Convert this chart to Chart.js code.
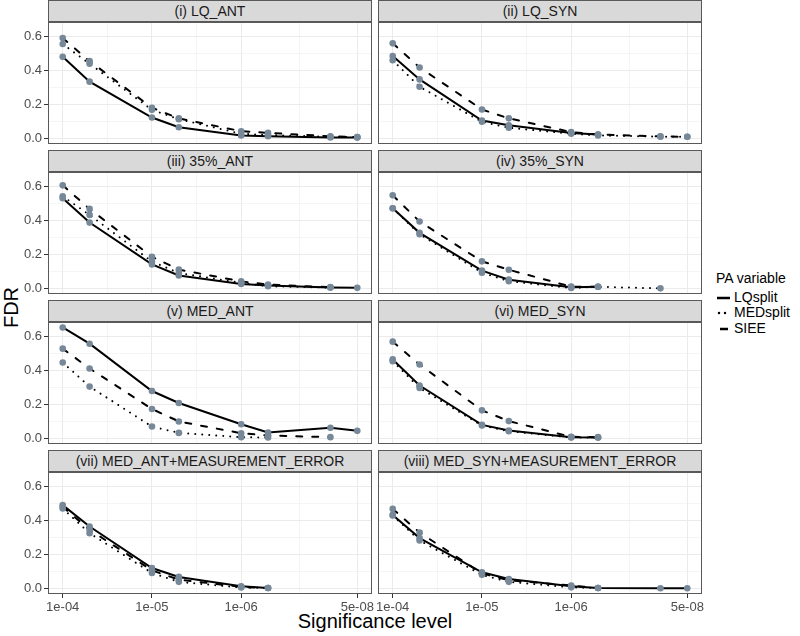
<!DOCTYPE html>
<html>
<head>
<meta charset="utf-8">
<script src="https://cdn.jsdelivr.net/npm/chart.js@4.4.0/dist/chart.umd.min.js"></script>
<style>
  body { margin:0; width:800px; height:636px; background:#fff; position:relative; overflow:hidden;
         font-family:"Liberation Sans", Arial, sans-serif; }
  .box { position:absolute; }
  .strip { position:absolute; box-sizing:border-box; height:22px; background:#d9d9d9; border:1px solid #595959;
           color:#1a1a1a; font-size:14px; line-height:20px; text-align:center; white-space:nowrap; }
  .ytitle { position:absolute; left:-19px; top:296px; width:60px; text-align:center; font-size:20px;
            transform:rotate(-90deg); color:#000; }
  .xtitle { position:absolute; left:225px; width:300px; top:610px; text-align:center; font-size:20px; color:#000; }
  .legend { position:absolute; left:716px; top:271px; font-size:14px; color:#000; }
  .legend .row { height:15.5px; line-height:15.5px; white-space:nowrap; }
  .legend svg { vertical-align:middle; margin-right:3px; }
</style>
</head>
<body>
<div class="ytitle">FDR</div>
<div class="xtitle">Significance level</div>
<div class="legend" id="legend"></div>

<script>
// significance thresholds (x) and axis breaks
const P_LEVELS = [1e-4, 5e-5, 1e-5, 5e-6, 1e-6, 5e-7, 1e-7, 5e-8];
const X_TICKS = [1e-4, 1e-5, 1e-6, 5e-8];
const X_TICK_LABELS = ["1e-04", "1e-05", "1e-06", "5e-08"];
const X_MINOR = [3.1623e-5, 3.1623e-6, 2.2361e-7];
const Y_TICKS = [0, 0.2, 0.4, 0.6];
const Y_TICK_LABELS = ["0.0", "0.2", "0.4", "0.6"];
const Y_MINOR = [0.1, 0.3, 0.5];

const PANEL_TITLES = [
  "(i) LQ_ANT", "(ii) LQ_SYN",
  "(iii) 35%_ANT", "(iv) 35%_SYN",
  "(v) MED_ANT", "(vi) MED_SYN",
  "(vii) MED_ANT+MEASUREMENT_ERROR", "(viii) MED_SYN+MEASUREMENT_ERROR"
];
const SERIES_NAMES = ["LQsplit", "MEDsplit", "SIEE"];

// FDR per panel, one value per P_LEVELS entry (null = not reported)
const LQSPLIT = [
  [0.48, 0.335, 0.125, 0.068, 0.02, 0.015, 0.008, 0.008],
  [0.485, 0.348, 0.107, 0.08, 0.035, 0.025, null, null],
  [0.53, 0.388, 0.143, 0.078, 0.029, 0.02, 0.008, 0.006],
  [0.472, 0.328, 0.107, 0.054, 0.01, 0.012, null, null],
  [0.652, 0.557, 0.28, 0.21, 0.086, 0.037, 0.065, 0.047],
  [0.465, 0.312, 0.082, 0.049, 0.01, 0.008, null, null],
  [0.49, 0.365, 0.122, 0.07, 0.015, 0.005, null, null],
  [0.433, 0.297, 0.097, 0.058, 0.015, 0.005, 0.004, 0.004]
];
const MEDSPLIT = [
  [0.555, 0.44, 0.17, 0.115, 0.03, 0.022, 0.012, 0.01],
  [0.46, 0.305, 0.1, 0.065, 0.03, 0.02, 0.013, 0.012],
  [0.542, 0.433, 0.16, 0.093, 0.035, 0.015, 0.008, null],
  [0.472, 0.32, 0.095, 0.045, 0.005, 0.012, 0.003, null],
  [0.447, 0.306, 0.072, 0.035, 0.01, 0.008, null, null],
  [0.455, 0.298, 0.078, 0.045, 0.008, 0.008, null, null],
  [0.47, 0.326, 0.093, 0.041, 0.008, 0.005, null, null],
  [0.43, 0.283, 0.082, 0.041, 0.009, 0.005, null, null]
];
const SIEE = [
  [0.59, 0.455, 0.182, 0.12, 0.045, 0.035, 0.015, 0.01],
  [0.559, 0.418, 0.172, 0.12, 0.04, 0.025, 0.015, 0.012],
  [0.606, 0.468, 0.188, 0.113, 0.044, 0.025, 0.01, null],
  [0.548, 0.394, 0.161, 0.112, 0.013, 0.012, null, null],
  [0.528, 0.412, 0.175, 0.102, 0.033, 0.02, 0.01, null],
  [0.569, 0.435, 0.167, 0.104, 0.012, 0.01, null, null],
  [0.48, 0.346, 0.108, 0.054, 0.012, 0.005, null, null],
  [0.468, 0.33, 0.09, 0.05, 0.02, 0.005, null, null]
];

const DASHES = [[], [0.01, 7], [6, 10]];
const POINT_COLOR = "#778899";
const FONT = "'Liberation Sans', Arial, sans-serif";

// panel geometry
const COL_LEFT = [48, 378];
const PANEL_W = 324;
const PANEL_H = 122;
const STRIP_H = 22;
const ROW_STEP = 150;
const PAD = 12;

const panelBorder = {
  id: "panelBorder",
  afterDatasetsDraw(chart) {
    const a = chart.chartArea, ctx = chart.ctx;
    ctx.save();
    ctx.strokeStyle = "#595959";
    ctx.lineWidth = 1;
    ctx.strokeRect(Math.round(a.left) + 0.5, Math.round(a.top) + 0.5,
                   Math.round(a.right - a.left) - 1, Math.round(a.bottom - a.top) - 1);
    ctx.restore();
  }
};

function toPoints(vals) {
  return P_LEVELS.map((p, i) => ({x: p, y: vals[i]})).filter(d => d.y !== null);
}

function makePanel(k) {
  const col = k % 2, row = Math.floor(k / 2);
  const bottom = row === 3;
  const yw = col === 0 ? 48 : 20;
  const xh = bottom ? 26 : 0;
  const panelTop = row * ROW_STEP + STRIP_H;

  const strip = document.createElement("div");
  strip.className = "strip";
  strip.style.left = COL_LEFT[col] + "px";
  strip.style.top = (row * ROW_STEP) + "px";
  strip.style.width = PANEL_W + "px";
  strip.textContent = PANEL_TITLES[k];
  document.body.appendChild(strip);

  const box = document.createElement("div");
  box.className = "box";
  box.style.left = (COL_LEFT[col] - yw) + "px";
  box.style.top = (panelTop - PAD) + "px";
  box.style.width = (yw + PANEL_W + 10) + "px";
  box.style.height = (PANEL_H + xh + 2 * PAD) + "px";
  const cv = document.createElement("canvas");
  box.appendChild(cv);
  document.body.appendChild(box);

  const series = [LQSPLIT[k], MEDSPLIT[k], SIEE[k]];
  const ds = [];
  series.forEach((vals, i) => {
    ds.push({
      label: SERIES_NAMES[i], data: toPoints(vals), order: 1,
      borderColor: "#000", borderWidth: 2, borderDash: DASHES[i], borderCapStyle: "round",
      pointRadius: 0, fill: false, tension: 0
    });
  });
  series.forEach((vals) => {
    ds.push({
      data: toPoints(vals), order: 0, showLine: false,
      pointRadius: 3.3, pointBackgroundColor: POINT_COLOR, pointBorderWidth: 0
    });
  });

  const isMajorX = v => X_TICKS.includes(v);
  const isMajorY = v => Y_TICKS.includes(v);

  new Chart(cv.getContext("2d"), {
    type: "line",
    data: { datasets: ds },
    plugins: [panelBorder],
    options: {
      responsive: true, maintainAspectRatio: false, animation: false,
      layout: { padding: { left: 0, right: 10, top: PAD, bottom: PAD } },
      plugins: { legend: { display: false }, tooltip: { enabled: false } },
      scales: {
        x: {
          type: "logarithmic", reverse: true, bounds: "data",
          min: Math.pow(10, -7.466), max: Math.pow(10, -3.835),
          afterBuildTicks: s => { s.ticks = X_TICKS.concat(X_MINOR).map(v => ({value: v})); },
          afterFit: s => { s.height = xh; },
          border: { display: false },
          grid: {
            color: "#ebebeb",
            lineWidth: c => (c.tick && isMajorX(c.tick.value)) ? 1 : 0.5,
            drawTicks: bottom, tickLength: 4, tickWidth: 1,
            tickColor: c => (c.tick && isMajorX(c.tick.value)) ? "#333333" : "rgba(0,0,0,0)"
          },
          ticks: {
            display: bottom, autoSkip: false, maxRotation: 0, minRotation: 0, padding: 2,
            color: "#4d4d4d", font: { family: FONT, size: 13 },
            callback: v => { const i = X_TICKS.indexOf(v); return i >= 0 ? X_TICK_LABELS[i] : ""; }
          }
        },
        y: {
          type: "linear", min: -0.03, max: 0.684,
          afterBuildTicks: s => { s.ticks = Y_TICKS.concat(Y_MINOR).map(v => ({value: v})); },
          afterFit: s => { s.width = yw; },
          border: { display: false },
          grid: {
            color: "#ebebeb",
            lineWidth: c => (c.tick && isMajorY(c.tick.value)) ? 1 : 0.5,
            drawTicks: col === 0, tickLength: 4, tickWidth: 1,
            tickColor: c => (c.tick && isMajorY(c.tick.value)) ? "#333333" : "rgba(0,0,0,0)"
          },
          ticks: {
            display: col === 0, autoSkip: false, padding: 2,
            color: "#4d4d4d", font: { family: FONT, size: 13 },
            callback: v => { const i = Y_TICKS.indexOf(v); return i >= 0 ? Y_TICK_LABELS[i] : ""; }
          }
        }
      }
    }
  });
}

function makeLegend() {
  const lg = document.getElementById("legend");
  let html = '<div class="row" style="margin-bottom:3px">PA variable</div>';
  const keys = [
    '<line x1="1" y1="3" x2="14" y2="3" stroke="#000" stroke-width="2.5"/>',
    '<line x1="3" y1="3" x2="13" y2="3" stroke="#000" stroke-width="2.5" stroke-dasharray="0.01 6" stroke-linecap="round"/>',
    '<line x1="4" y1="3" x2="12" y2="3" stroke="#000" stroke-width="2.5"/>'
  ];
  SERIES_NAMES.forEach((n, i) => {
    html += '<div class="row"><svg width="15" height="6">' + keys[i] + '</svg>' + n + '</div>';
  });
  lg.innerHTML = html;
}

window.onload = function() {
  for (let k = 0; k < PANEL_TITLES.length; k++) makePanel(k);
  makeLegend();
};
</script>
</body>
</html>
